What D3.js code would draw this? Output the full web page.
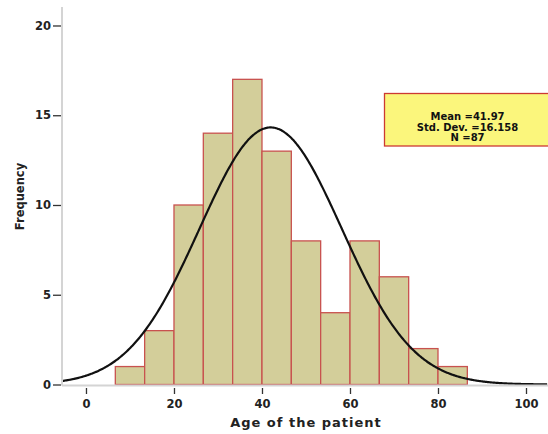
<!DOCTYPE html>
<html><head><meta charset="utf-8">
<script src="https://cdn.jsdelivr.net/npm/d3@7"></script>
<style>html,body{margin:0;padding:0;background:#fff;overflow:hidden}</style>
</head><body>
<script>
// Data
const binStarts = [6.667,13.333,20,26.667,33.333,40,46.667,53.333,60,66.667,73.333,80];
const binWidth = 6.667;
const counts = [1,3,10,14,17,13,8,4,8,6,2,1];
const xTicks = [0,20,40,60,80,100];
const yTicks = [0,5,10,15,20];
const statLabels = ["Mean =41.97","Std. Dev. =16.158","N =87"];
const statMean = 41.97, statSD = 16.158, statN = 87;

const W = 548, H = 434;
const svg = d3.select("body").append("svg").attr("width",W).attr("height",H);
const font = "'DejaVu Sans', Verdana, sans-serif";

const x = d3.scaleLinear().domain([-5.45, 105]).range([62, 548]);
const y = d3.scaleLinear().domain([0, 21.03]).range([384.5, 7]);

// bars
svg.append("g").selectAll("rect").data(counts).join("rect")
  .attr("x",(d,i)=>x(binStarts[i]))
  .attr("width",(d,i)=>x(binStarts[i]+binWidth)-x(binStarts[i]))
  .attr("y",d=>y(d)).attr("height",d=>y(0)-y(d))
  .attr("fill","#d3ce9a").attr("stroke","#c8524f").attr("stroke-width",1.3);

// normal curve from displayed statistics
const curveX = d3.range(-5.45, 105.01, 0.25);
const dens = v => statN*binWidth/(statSD*Math.sqrt(2*Math.PI))*Math.exp(-0.5*Math.pow((v-statMean)/statSD,2));
svg.append("path").datum(curveX)
  .attr("d", d3.line().x(v=>x(v)).y(v=>y(dens(v))).curve(d3.curveBasis))
  .attr("fill","none").attr("stroke","#111").attr("stroke-width",2.2);

// axes lines
svg.append("line").attr("x1",62).attr("x2",62).attr("y1",7).attr("y2",385.5)
  .attr("stroke","#d4d4d4").attr("stroke-width",2);
svg.append("line").attr("x1",62).attr("x2",548).attr("y1",385.5).attr("y2",385.5)
  .attr("stroke","#d4d4d4").attr("stroke-width",2);

// y axis
const yAxis = d3.axisLeft(y).tickValues(yTicks).tickSize(8).tickPadding(2).tickFormat(d3.format("d"));
const gy = svg.append("g").attr("transform","translate(61,0)").call(yAxis);
gy.select(".domain").remove();
gy.selectAll(".tick line").attr("stroke","#333").attr("stroke-width",1.3);
gy.selectAll(".tick text").attr("font-family",font).attr("font-weight","bold").attr("font-size","11.5px").attr("fill","#222");

// x axis
const xAxis = d3.axisBottom(x).tickValues(xTicks).tickSize(6).tickPadding(6).tickFormat(d3.format("d"));
const gx = svg.append("g").attr("transform","translate(0,388)").call(xAxis);
gx.select(".domain").remove();
gx.selectAll(".tick line").attr("stroke","#333").attr("stroke-width",1.3);
gx.selectAll(".tick text").attr("font-family",font).attr("font-weight","bold").attr("font-size","11.5px").attr("fill","#222");

// titles
svg.append("text").attr("x",306).attr("y",427.3).attr("text-anchor","middle")
  .attr("font-family",font).attr("font-weight","bold").attr("font-size","13px")
  .attr("letter-spacing","1px").attr("fill","#222").text("Age of the patient");
svg.append("text").attr("transform","translate(23.5,196.5) rotate(-90)").attr("text-anchor","middle")
  .attr("font-family",font).attr("font-weight","bold").attr("font-size","11.5px")
  .attr("fill","#222").text("Frequency");

// stats box
svg.append("rect").attr("x",384.5).attr("y",93.5).attr("width",172).attr("height",52.5)
  .attr("fill","#fbf67c").attr("stroke","#cc3a33").attr("stroke-width",1.3);
svg.append("g").selectAll("text").data(statLabels).join("text")
  .attr("x",467.5).attr("y",(d,i)=>120+i*10.6).attr("text-anchor","middle")
  .attr("font-family",font).attr("font-weight","bold").attr("font-size","10px")
  .attr("fill","#111").text(d=>d);
</script>
</body></html>
